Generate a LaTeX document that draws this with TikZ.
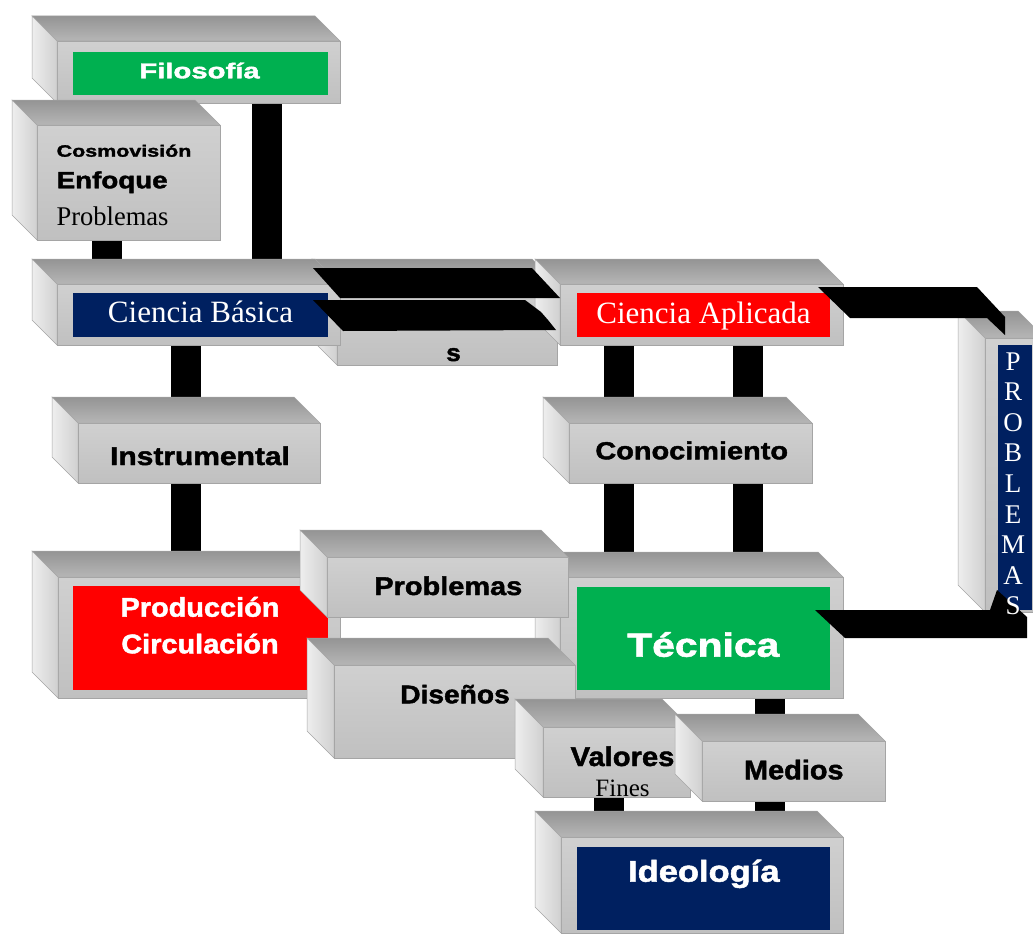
\documentclass[tikz,border=0pt]{standalone}
\usepackage{fontspec}
\usepackage{graphicx}
\usetikzlibrary{calc}
\newfontfamily\arfont{Liberation Sans}[BoldFeatures={FakeBold=1.6}]
\newfontfamily\tmfont{Liberation Serif}
\definecolor{fgreen}{RGB}{0,176,80}
\definecolor{fred}{RGB}{255,0,0}
\definecolor{fnavy}{RGB}{0,32,96}
\definecolor{ftop}{RGB}{148,148,148}
\definecolor{ftop2}{RGB}{182,182,182}
\definecolor{ffront}{RGB}{208,208,208}
\definecolor{ffront2}{RGB}{192,192,192}
\definecolor{fleft}{RGB}{238,238,238}
\definecolor{fleft2}{RGB}{208,208,208}
\definecolor{fedge}{RGB}{165,165,165}
\pgfdeclarelayer{bg}
\pgfsetlayers{bg,main}
\newcommand\bt[3]{\scalebox{#2}[1]{\arfont\bfseries\fontsize{#1}{#1}\selectfont #3}}
\newcommand\st[3]{\scalebox{#2}[1]{\tmfont\fontsize{#1}{#1}\selectfont #3}}
% 3D box: name, x1, y1, x2, y2, depth
\newcommand\threed[6]{%
  \node[frontface, anchor=north west, minimum width={#4-#2}, minimum height={#5-#3}] (#1) at (#2,#3) {};
  \path[topface] (#1.north west) -- ++(-#6,-#6) -- ($(#1.north east)+(-#6,-#6)$) -- (#1.north east) -- cycle;
  \path[leftface] (#1.north west) -- ++(-#6,-#6) -- ($(#1.south west)+(-#6,-#6)$) -- (#1.south west) -- cycle;
}
% coloured label: name, x1, y1, x2, y2, colour
\newcommand\labbox[6]{%
  \node[lab, fill=#6, minimum width={#4-#2}, minimum height={#5-#3}] (#1) at (#2,#3) {};
}
\begin{document}
\begin{tikzpicture}[x=1pt,y=-1pt,
  frontface/.style={draw=fedge, line width=0.5pt, top color=ffront, bottom color=ffront2, inner sep=0pt, outer sep=0pt},
  topface/.style={draw=fedge, line width=0.5pt, top color=ftop, bottom color=ftop2},
  leftface/.style={draw=fedge, line width=0.5pt, left color=fleft, right color=fleft2},
  lab/.style={anchor=north west, inner sep=0pt, outer sep=0pt},
  txt/.style={inner sep=0pt, outer sep=0pt, anchor=base},
  bar/.style={line width=30pt, black},
  arr/.style={fill=black}]
\useasboundingbox (0,0) rectangle (1033,934);
\clip (0,0) rectangle (1033,934);

% Filosofia
\threed{fil}{57}{41}{340}{103}{25}
\labbox{filL}{73}{52}{328}{95}{fgreen}
\node[txt, text=white] (filT) at (199.5,78.3) {\bt{21.5}{1.36}{Filosofía}};

% Cosmovision
\threed{cos}{37}{125}{220}{240}{25}
\node[txt, anchor=base west] (cosT1) at (56.7,156.7) {\bt{16.5}{1.3}{Cosmovisión}};
\node[txt, anchor=base west] (cosT2) at (56.7,188.3) {\bt{23.5}{1.18}{Enfoque}};
\node[txt, anchor=base west] (cosT3) at (56.7,225) {\st{27}{0.98}{Problemas}};

% hidden box with "s"
\threed{sbx}{337}{284}{557}{365}{25}
\node[txt] (sT) at (453.5,361) {\bt{24}{1.1}{s}};

% Ciencia Basica
\threed{cb}{57}{284}{340}{345}{25}
\labbox{cbL}{73}{293}{328}{337}{fnavy}
\node[txt, text=white] (cbT) at (200.5,322.7) {\st{31}{1}{Ciencia Básica}};

% Ciencia Aplicada
\threed{ca}{560}{284}{843}{345}{25}
\labbox{caL}{577}{293}{830}{337}{fred}
\node[txt, text=white] (caT) at (703.5,323) {\st{31}{1}{Ciencia Aplicada}};

% block arrows between the sciences
\fill[arr] (313,268) -- (532,268) -- (560,298) -- (340,298) -- cycle;
\fill[arr] (313,300) -- (525,300) -- (541,312) -- (548,320) -- (556,330) -- (343,331) -- cycle;

% Instrumental
\threed{ins}{78}{423}{320}{483}{26}
\node[txt] (insT) at (200,465) {\bt{25.6}{1.17}{Instrumental}};

% Conocimiento
\threed{con}{569}{423}{812}{483}{26}
\node[txt] (conT) at (691.7,459.3) {\bt{24.7}{1.17}{Conocimiento}};

% Produccion
\threed{prod}{58}{577}{340}{698}{26}
\labbox{prodL}{73}{586}{328}{690}{fred}
\node[txt, text=white] (prodT1) at (200,616.7) {\bt{27}{1.07}{Producción}};
\node[txt, text=white] (prodT2) at (200,653.3) {\bt{27}{1.07}{Circulación}};

% Tecnica
\threed{tec}{560}{577}{843}{698}{25}
\labbox{tecL}{577}{587}{830}{690}{fgreen}
\node[txt, text=white] (tecT) at (703.3,656.7) {\bt{33.5}{1.22}{Técnica}};

% Problemas
\threed{pbm}{327}{557}{568}{617}{27}
\node[txt] (pbmT) at (448.3,595) {\bt{25.6}{1.13}{Problemas}};

% Disenos
\threed{dis}{334}{665}{575}{758}{27}
\node[txt] (disT) at (455,703.3) {\bt{25.6}{1.1}{Diseños}};

% Valores
\threed{val}{543}{727}{690}{797}{28}
\node[txt] (valT) at (622.5,766) {\bt{27}{1.08}{Valores}};

% Medios
\threed{med}{702}{741}{885}{801}{27}
\node[txt] (medT) at (793.8,779.3) {\bt{27}{1.07}{Medios}};

% Ideologia
\threed{ide}{561}{837}{843}{933}{26}
\labbox{ideL}{577}{847}{830}{930}{fnavy}
\node[txt, text=white] (ideT) at (703.8,881.7) {\bt{30}{1.15}{Ideología}};

\node[txt] (finT) at (622.5,796.7) {\st{25}{1}{Fines}};

% PROBLEMAS vertical box
\threed{pv}{985}{338}{1045}{612}{27}
\labbox{pvL}{998}{345}{1032}{610}{fnavy}

% block arrows to and from PROBLEMAS
\fill[arr] (818,287) -- (977,287) -- (1005,317) -- (1005,335) -- (987,318) -- (850,318) -- cycle;
\fill[arr] (815,610) -- (990,610) -- (997,590) -- (1027,617) -- (1027,638) -- (845,638) -- cycle;

\foreach \l [count=\i from 0] in {P,R,O,B,L,E,M,A,S}
  \node[txt, text=white] (pl\i) at (1013,{370+30.6*\i}) {\st{27}{1}{\l}};

% vertical connectors behind the boxes
\coordinate (bx1) at (266.7,0);
\coordinate (bx2) at (106.7,0);
\coordinate (bx3) at (186,0);
\coordinate (bx4) at (618.5,0);
\coordinate (bx5) at (748,0);
\coordinate (bx6) at (770,0);
\coordinate (bx7) at (608.7,0);
\begin{pgfonlayer}{bg}
\draw[bar] (bx1 |- fil.south) -- (bx1 |- cb.north);
\draw[bar] (bx2 |- cos.south) -- (bx2 |- cb.north);
\draw[bar] (bx3 |- cb.south) -- (bx3 |- ins.north);
\draw[bar] (bx3 |- ins.south) -- (bx3 |- prod.north);
\draw[bar] (bx4 |- ca.south) -- (bx4 |- con.north);
\draw[bar] (bx5 |- ca.south) -- (bx5 |- con.north);
\draw[bar] (bx4 |- con.south) -- (bx4 |- tec.north);
\draw[bar] (bx5 |- con.south) -- (bx5 |- tec.north);
\draw[bar] (bx6 |- tec.south) -- (bx6 |- med.north);
\draw[bar] (bx6 |- med.south) -- (bx6 |- ide.north);
\draw[bar] (bx7 |- val.south) -- (bx7 |- ide.north);
\end{pgfonlayer}
\end{tikzpicture}
\end{document}
